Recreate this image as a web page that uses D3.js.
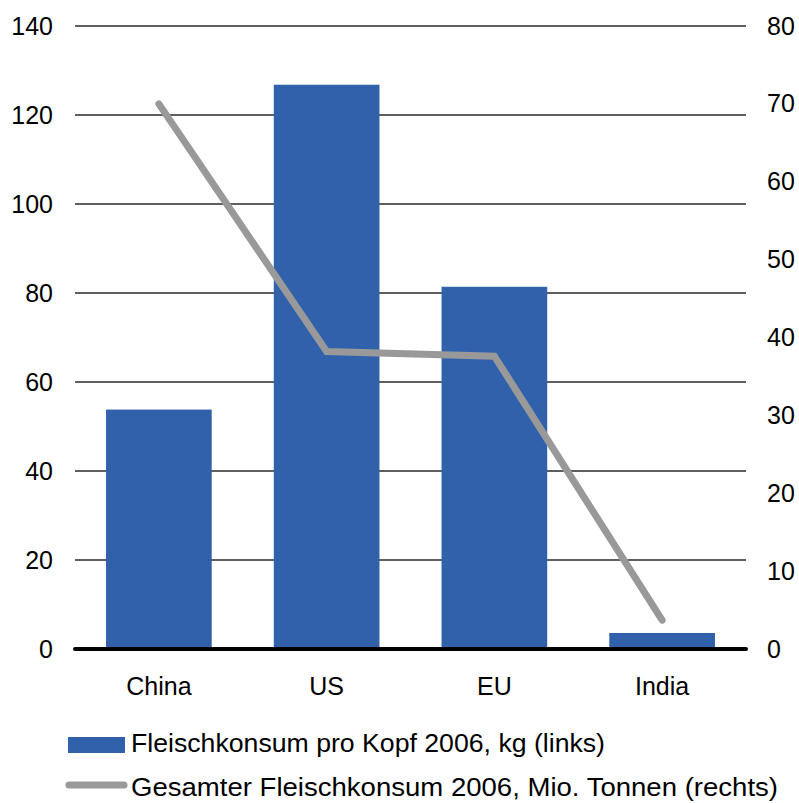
<!DOCTYPE html>
<html><head><meta charset="utf-8">
<script src="https://cdn.jsdelivr.net/npm/d3@7"></script>
<style>body{margin:0;background:#fff}text{font-family:"Liberation Sans",Arial,sans-serif;fill:#000}</style>
</head><body><svg id="c" width="799" height="803"></svg>
<script>
const categories = ["China","US","EU","India"];
const perCapita = [53.8,126.8,81.4,3.6];
const totalMt = [70.0,38.2,37.6,3.7];
const leftTicks = [0,20,40,60,80,100,120,140];
const rightTicks = [0,10,20,30,40,50,60,70,80];
const legendLabels = ["Fleischkonsum pro Kopf 2006, kg (links)","Gesamter Fleischkonsum 2006, Mio. Tonnen (rechts)"];

const svg = d3.select("#c");
const L = 75, R = 746, T = 26, B = 649;
const FS = 25;
const x = d3.scaleBand().domain(categories).range([L,R]).paddingInner(0.37).paddingOuter(0.185);
const yL = d3.scaleLinear().domain([0,140]).range([B,T]);
const yR = d3.scaleLinear().domain([0,80]).range([B,T]);

// gridlines
svg.append("g").selectAll("line").data(leftTicks.filter(d=>d>0)).join("line")
  .attr("x1",L).attr("x2",R).attr("y1",d=>yL(d)).attr("y2",d=>yL(d))
  .attr("stroke","#2a2a2a").attr("stroke-width",1.3);

// left axis labels
const gl = svg.append("g").attr("transform",`translate(${L-22},0)`)
  .call(d3.axisLeft(yL).tickValues(leftTicks).tickSize(0).tickPadding(0));
gl.select(".domain").remove();
gl.selectAll("text").attr("font-size",FS).attr("font-family","Liberation Sans, Arial, sans-serif").attr("fill","#000");

const gr = svg.append("g").attr("transform",`translate(${R+21},0)`)
  .call(d3.axisRight(yR).tickValues(rightTicks).tickSize(0).tickPadding(0));
gr.select(".domain").remove();
gr.selectAll("text").attr("font-size",FS).attr("font-family","Liberation Sans, Arial, sans-serif").attr("fill","#000");

// bars
svg.append("g").selectAll("rect").data(categories).join("rect")
  .attr("x",d=>x(d)).attr("width",x.bandwidth())
  .attr("y",(d,i)=>yL(perCapita[i])).attr("height",(d,i)=>yL(0)-yL(perCapita[i]))
  .attr("fill","#3161ab");

// baseline
svg.append("line").attr("x1",L).attr("x2",R).attr("y1",B).attr("y2",B)
  .attr("stroke","#000").attr("stroke-width",4).attr("stroke-linecap","round");

// x labels
const gx = svg.append("g").attr("transform",`translate(0,${B+28})`)
  .call(d3.axisBottom(x).tickSize(0).tickPadding(0));
gx.select(".domain").remove();
gx.selectAll("text").attr("font-size",FS).attr("font-family","Liberation Sans, Arial, sans-serif").attr("fill","#000");

// line
const line = d3.line().x((d,i)=>x(categories[i])+x.bandwidth()/2).y(d=>yR(d));
svg.append("path").datum(totalMt).attr("d",line).attr("fill","none")
  .attr("stroke","#999").attr("stroke-width",7).attr("stroke-linecap","round").attr("stroke-linejoin","miter");

// legend
const lg = svg.append("g");
lg.append("rect").attr("x",68).attr("y",737).attr("width",57).attr("height",16).attr("fill","#3161ab");
lg.append("text").attr("x",131).attr("y",752).attr("font-size",26)
  .attr("textLength",474).attr("lengthAdjust","spacingAndGlyphs").text(legendLabels[0]);
lg.append("line").attr("x1",69).attr("x2",124).attr("y1",785).attr("y2",785)
  .attr("stroke","#999").attr("stroke-width",7).attr("stroke-linecap","round");
lg.append("text").attr("x",131).attr("y",796).attr("font-size",26)
  .attr("textLength",647).attr("lengthAdjust","spacingAndGlyphs").text(legendLabels[1]);
</script></body></html>
